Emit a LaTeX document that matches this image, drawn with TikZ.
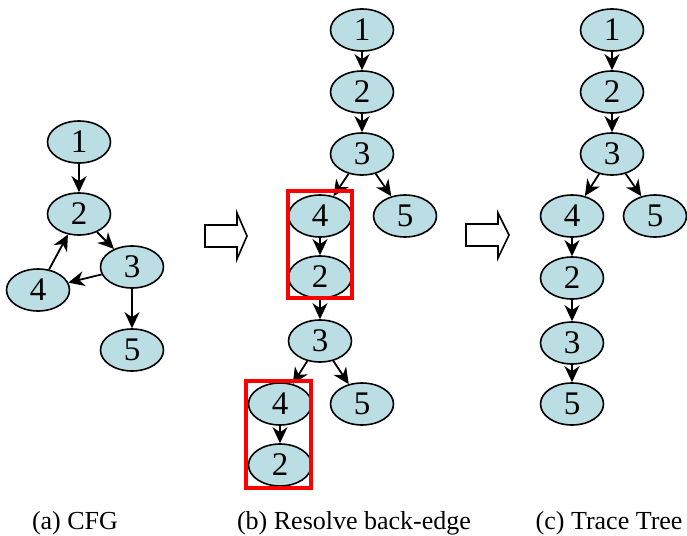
\documentclass[tikz,border=0pt]{standalone}
\usepackage{fontspec}
\setmainfont{Liberation Serif}
\usetikzlibrary{shapes.geometric,arrows.meta}
\definecolor{nodefill}{RGB}{186,222,227}
\tikzset{
    bb/.style={ellipse, draw, line width=1.6pt, fill=nodefill, minimum width=63pt, minimum height=42pt, inner sep=0pt, font=\fontsize{33}{33}\selectfont},
    edge/.style={-{Stealth[length=16pt,width=15pt,inset=5pt]}, line width=1.8pt},
    trace/.style={draw=red, line width=3.2pt},
    bigarrow/.style={draw, line width=1.6pt, fill=white},
    caption/.style={anchor=base, font=\fontsize{26}{26}\selectfont}
}
\begin{document}
\begin{tikzpicture}[x=1pt, y=-1pt]
    \useasboundingbox (0,0) rectangle (687,535);

    % (a) control flow graph
    \node[bb] (a1) at (79,142) {1};
    \node[bb] (a2) at (79,214) {2};
    \node[bb] (a3) at (132,267) {3};
    \node[bb] (a4) at (38,290) {4};
    \node[bb] (a5) at (132,350) {5};
    \draw[edge] (a1) -- (a2);
    \draw[edge] (a2) -- (a3);
    \draw[edge] (a3) -- (a4);
    \draw[edge] (a4) -- (a2);
    \draw[edge] (a3) -- (a5);

    % arrow between (a) and (b)
    \draw[bigarrow] (205,225) -- (237,225) -- (237,213) -- (247,236) -- (237,259) -- (237,247) -- (205,247) -- cycle;

    % (b) back-edge unrolled
    \node[bb] (b1) at (362,30) {1};
    \node[bb] (b2) at (362,92) {2};
    \node[bb] (b3) at (362,154) {3};
    \node[bb] (b4) at (320,216) {4};
    \node[bb] (b5) at (405,216) {5};
    \node[bb] (b6) at (320,277) {2};
    \node[bb] (b7) at (320,341) {3};
    \node[bb] (b8) at (280,404) {4};
    \node[bb] (b9) at (362,404) {5};
    \node[bb] (b10) at (280,465) {2};
    \draw[edge] (b1) -- (b2);
    \draw[edge] (b2) -- (b3);
    \draw[edge] (b3) -- (b4);
    \draw[edge] (b3) -- (b5);
    \draw[edge] (b4) -- (b6);
    \draw[edge] (b6) -- (b7);
    \draw[edge] (b7) -- (b8);
    \draw[edge] (b7) -- (b9);
    \draw[edge] (b8) -- (b10);
    \draw[trace] (288,191) rectangle (352,298);
    \draw[trace] (246,381) rectangle (311,488);

    % arrow between (b) and (c)
    \draw[bigarrow] (466,224) -- (498,224) -- (498,213) -- (509,235) -- (498,258) -- (498,246) -- (466,246) -- cycle;

    % (c) trace tree
    \node[bb] (c1) at (612,30) {1};
    \node[bb] (c2) at (612,92) {2};
    \node[bb] (c3) at (612,154) {3};
    \node[bb] (c4) at (572,216) {4};
    \node[bb] (c5) at (655,216) {5};
    \node[bb] (c6) at (572,278) {2};
    \node[bb] (c7) at (572,343) {3};
    \node[bb] (c8) at (572,404) {5};
    \draw[edge] (c1) -- (c2);
    \draw[edge] (c2) -- (c3);
    \draw[edge] (c3) -- (c4);
    \draw[edge] (c3) -- (c5);
    \draw[edge] (c4) -- (c6);
    \draw[edge] (c6) -- (c7);
    \draw[edge] (c7) -- (c8);

    % captions
    \node[caption] (capa) at (75,529) {(a) CFG};
    \node[caption] (capb) at (354,529) {(b) Resolve back-edge};
    \node[caption, anchor=base east] (capc) at (686,529) {(c) Trace Tree};
\end{tikzpicture}
\end{document}
